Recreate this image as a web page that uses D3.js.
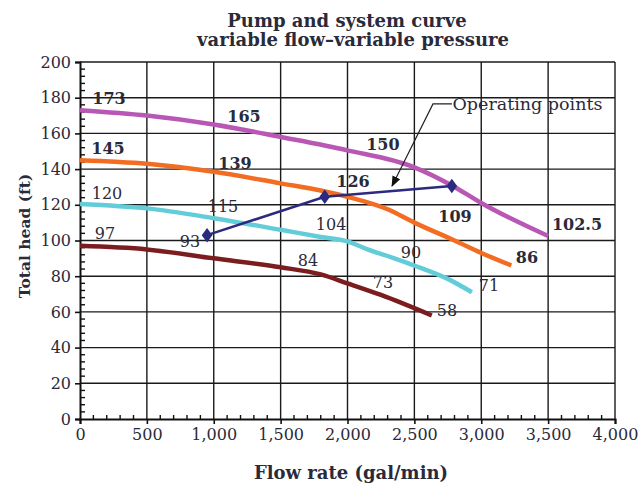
<!DOCTYPE html>
<html>
<head>
<meta charset="utf-8">
<script src="https://cdn.jsdelivr.net/npm/d3@7"></script>
<style>
  body { margin: 0; background: #fff; }
  text { font-family: "DejaVu Serif", serif; fill: #2a2a3a; }
</style>
</head>
<body>
<div class="canvas"></div>
<script>
// pump curves: [flow gal/min, head ft]
const curve173 = [[0,173],[500,170],[1000,165],[1500,158],[2000,150.5],[2500,141],[2800,130],[3000,121],[3500,102.5]];
const curve145 = [[0,145],[500,143],[1000,138.5],[1500,132],[1800,128],[2000,124.5],[2300,117.5],[2500,110],[2800,100],[3000,93],[3225,86]];
const curve120 = [[0,120.5],[500,118],[1000,112.5],[1500,106],[1800,102],[2000,99.5],[2150,95],[2350,90],[2500,86],[2750,78.5],[2930,71]];
const curve97 = [[0,97],[500,95],[1000,90],[1500,85],[1800,81],[2000,76],[2250,69.5],[2630,58]];
const operating = [[950,103],[1830,124.5],[2780,130.5]];

// value labels: [flow, head, text]
const labels173 = [[217,179.8,'173'],[1226,169.7,'165'],[2265,154,'150'],[3716,108.7,'102.5']];
const labels145 = [[209,151.8,'145'],[1159,143.4,'139'],[2041,133.3,'126'],[2804,113.2,'109'],[3342,90.2,'86']];
const labels120 = [[202,126.6,'120'],[1069,119.3,'115'],[1877,108.7,'104'],[2475,93,'90'],[3058,75,'71']];
const labels97 = [[187,104.2,'97'],[822,99.7,'93'],[1705,89,'84'],[2265,76.7,'73'],[2744,61,'58']];

const xTicks = [0,500,1000,1500,2000,2500,3000,3500,4000];
const yTicks = [0,20,40,60,80,100,120,140,160,180,200];

const dims = { width: 638, height: 486 };
const x = d3.scaleLinear().domain([0, 4000]).range([80, 615]);
const y = d3.scaleLinear().domain([0, 200]).range([419, 62]);

const svg = d3.select('.canvas')
  .append('svg')
  .attr('width', dims.width)
  .attr('height', dims.height);

// title
svg.append('text')
  .attr('x', 347).attr('y', 27)
  .attr('text-anchor', 'middle')
  .style('font-weight', 'bold').style('font-size', '18px')
  .text('Pump and system curve');
svg.append('text')
  .attr('x', 353).attr('y', 46)
  .attr('text-anchor', 'middle')
  .style('font-weight', 'bold').style('font-size', '18px')
  .text('variable flow\u2013variable pressure');

// grid
const grid = svg.append('g').attr('stroke', '#1a1a1a').attr('stroke-width', 1.4);
grid.selectAll('.vg').data(xTicks.slice(1)).enter()
  .append('line')
  .attr('x1', d => x(d)).attr('x2', d => x(d))
  .attr('y1', y(0)).attr('y2', y(200));
grid.selectAll('.hg').data(yTicks.slice(1)).enter()
  .append('line')
  .attr('x1', x(0)).attr('x2', x(4000))
  .attr('y1', d => y(d)).attr('y2', d => y(d));

// axes
const xAxis = d3.axisBottom(x).tickValues(xTicks).tickSize(5).tickPadding(5)
  .tickFormat(d3.format(','));
const yAxis = d3.axisLeft(y).tickValues(yTicks).tickSize(5).tickPadding(4);

const gx = svg.append('g').attr('transform', `translate(0,${y(0)})`).call(xAxis);
const gy = svg.append('g').attr('transform', `translate(${x(0)},0)`).call(yAxis);
[gx, gy].forEach(g => {
  g.select('.domain').attr('stroke', '#111').attr('stroke-width', 2);
  g.selectAll('.tick line').attr('stroke', '#111').attr('stroke-width', 1.6);
  g.selectAll('text').style('font-size', '16px').style('font-family', '"DejaVu Serif", serif')
    .attr('fill', '#3a3550');
});

// minor ticks, pointing inside
svg.append('g').selectAll('line')
  .data(d3.range(0, 4001, 100).filter(d => d % 500 !== 0))
  .enter().append('line')
  .attr('x1', d => x(d)).attr('x2', d => x(d))
  .attr('y1', y(0)).attr('y2', y(0) - 4)
  .attr('stroke', '#111').attr('stroke-width', 1.4);
svg.append('g').selectAll('line')
  .data(d3.range(0, 201, 4).filter(d => d % 20 !== 0))
  .enter().append('line')
  .attr('x1', x(0)).attr('x2', x(0) + 5)
  .attr('y1', d => y(d)).attr('y2', d => y(d))
  .attr('stroke', '#111').attr('stroke-width', 1.4);

// axis titles
svg.append('text')
  .attr('transform', `translate(30,236) rotate(-90)`)
  .attr('text-anchor', 'middle')
  .style('font-weight', 'bold').style('font-size', '15.5px')
  .text('Total head (ft)');
svg.append('text')
  .attr('x', 351).attr('y', 479)
  .attr('text-anchor', 'middle')
  .style('font-weight', 'bold').style('font-size', '18px')
  .text('Flow rate (gal/min)');

// curves
const line = d3.line()
  .x(d => x(d[0]))
  .y(d => y(d[1]))
  .curve(d3.curveMonotoneX);

const series = [
  { data: curve97, color: '#7b1c1f', labels: labels97, bold: false },
  { data: curve120, color: '#62cdd9', labels: labels120, bold: false },
  { data: curve145, color: '#f26c22', labels: labels145, bold: true },
  { data: curve173, color: '#b957b5', labels: labels173, bold: true }
];

const graph = svg.append('g');
series.forEach(s => {
  graph.append('path')
    .attr('d', line(s.data))
    .attr('fill', 'none')
    .attr('stroke', s.color)
    .attr('stroke-width', 4.5)
    .attr('stroke-linecap', 'butt');
});

// operating points
graph.append('path')
  .attr('d', d3.line().x(d => x(d[0])).y(d => y(d[1]))(operating))
  .attr('fill', 'none')
  .attr('stroke', '#2c2a7e')
  .attr('stroke-width', 2.5);
graph.selectAll('.op').data(operating).enter()
  .append('path')
  .attr('d', d3.symbol().type(d3.symbolDiamond).size(75))
  .attr('transform', d => `translate(${x(d[0])},${y(d[1])}) scale(1.15,0.9)`)
  .attr('fill', '#2c2a7e');

// value labels
series.forEach(s => {
  svg.append('g').selectAll('text')
    .data(s.labels).enter()
    .append('text')
    .attr('x', d => x(d[0])).attr('y', d => y(d[1]))
    .attr('text-anchor', 'middle')
    .attr('dominant-baseline', 'central')
    .style('font-size', '16px')
    .style('font-weight', s.bold ? 'bold' : 'normal')
    .attr('fill', s.bold ? '#1e1e2a' : '#34365a')
    .text(d => d[2]);
});

// annotation arrow
svg.append('defs').append('marker')
  .attr('id', 'arrow')
  .attr('viewBox', '0 0 10 10')
  .attr('refX', 9).attr('refY', 5)
  .attr('markerWidth', 9).attr('markerHeight', 9)
  .attr('orient', 'auto')
  .append('path')
  .attr('d', 'M0,1L10,5L0,9Z')
  .attr('fill', '#111');

const arrowPts = [[2781,176.5],[2639,176.5],[2333,130.5]];
svg.append('path')
  .attr('d', d3.line().x(d => x(d[0])).y(d => y(d[1]))(arrowPts))
  .attr('fill', 'none')
  .attr('stroke', '#222')
  .attr('stroke-width', 1.2)
  .attr('marker-end', 'url(#arrow)');

svg.append('text')
  .attr('x', x(2785)).attr('y', y(176.5))
  .attr('dominant-baseline', 'central')
  .style('font-size', '17.5px')
  .attr('fill', '#3a3a5e')
  .text('Operating points');
</script>
</body>
</html>
